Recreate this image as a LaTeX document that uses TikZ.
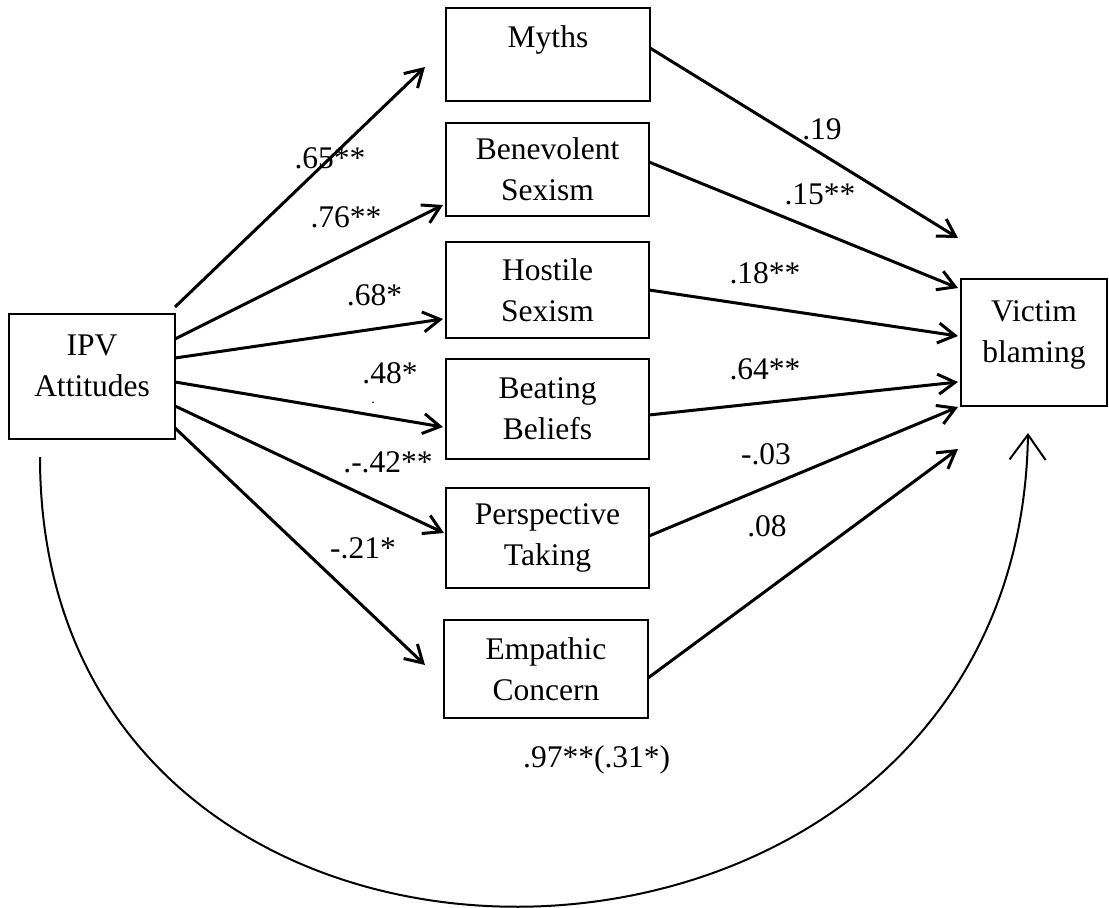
\documentclass[tikz,border=0pt]{standalone}
\usepackage{fontspec}
\setmainfont{Liberation Serif}
\usepackage{tikz}
\usetikzlibrary{arrows.meta, positioning, calc}
\definecolor{Black}{rgb}{0.0,0.0,0.0}

\begin{document}
\begin{tikzpicture}[x=1pt, y=-1pt,
    every node/.style={font=\fontsize{31.5}{41}\selectfont, text=Black},
    box/.style={draw=Black, line width=2.5pt, align=center, inner sep=0pt, outer sep=0pt},
    path/.style={line width=3pt, draw=Black, -{Straight Barb[length=17pt,width=20pt]}},
    coef/.style={inner sep=0pt, anchor=base}]

    \useasboundingbox (0,0) rectangle (1109,908);

    % predictor
    \node[box, minimum width=166pt, minimum height=125pt] (ipv) at (92,376.5) {IPV\\Attitudes\\[-20pt]~};

    % mediators
    \node[box, minimum width=204pt, minimum height=93pt] (myths) at (548,54.5) {Myths\\[-6pt]~};
    \node[box, minimum width=203pt, minimum height=93pt] (benevolent) at (547.5,169.5) {Benevolent\\Sexism};
    \node[box, minimum width=203pt, minimum height=96pt] (hostile) at (547.5,290) {Hostile\\Sexism};
    \node[box, minimum width=203pt, minimum height=100pt] (beating) at (547.5,409) {Beating\\Beliefs};
    \node[box, minimum width=203pt, minimum height=100pt] (perspective) at (547.5,538) {Perspective\\Taking};
    \node[box, minimum width=204pt, minimum height=98pt] (empathic) at (546,669) {Empathic\\Concern};

    % outcome
    \node[box, minimum width=146pt, minimum height=127pt] (victim) at (1034,342.5) {Victim\\blaming\\[-20pt]~};

    % a paths
    \draw[path] ([yshift=69.5pt]ipv.east) -- ([xshift=-21pt,yshift=-12.5pt]myths.west);
    \draw[path] ([yshift=37.5pt]ipv.east) -- ([xshift=-3pt,yshift=-35.5pt]benevolent.west);
    \draw[path] ([yshift=18.5pt]ipv.east) -- ([xshift=-3pt,yshift=-29pt]hostile.west);
    \draw[path] ([yshift=-5.5pt]ipv.east) -- ([xshift=-3pt,yshift=-18pt]beating.west);
    \draw[path] ([yshift=-29.5pt]ipv.east) -- ([xshift=-2pt,yshift=5pt]perspective.west);
    \draw[path] ([yshift=-51.5pt]ipv.east) -- ([xshift=-19pt,yshift=4pt]empathic.west);

    % b paths
    \draw[path] ([yshift=6.5pt]myths.east) -- ([xshift=-3pt,yshift=104.5pt]victim.west);
    \draw[path] ([yshift=7.5pt]benevolent.east) -- ([xshift=-3pt,yshift=54.5pt]victim.west);
    \draw[path] (hostile.east) -- ([xshift=-3pt,yshift=6.5pt]victim.west);
    \draw[path] ([yshift=-6pt]beating.east) -- ([xshift=-3pt,yshift=-39.5pt]victim.west);
    \draw[path] ([yshift=2pt]perspective.east) -- ([xshift=-3pt,yshift=-64.5pt]victim.west);
    \draw[path] ([yshift=-9pt]empathic.east) -- ([xshift=-3pt,yshift=-106.5pt]victim.west);

    % c path
    \draw[line width=2pt, draw=Black, -{Straight Barb[length=25pt,width=36pt]}]
        ([xshift=-52pt,yshift=-18pt]ipv.south)
        .. controls +(0,615) and +(-10,615) ..
        ([xshift=-6pt,yshift=-27pt]victim.south);

    % coefficients
    \node[coef] (a1) at (330,168) {.65**};
    \node[coef] (a2) at (346,227) {.76**};
    \node[coef] (a3) at (374.5,305) {.68*};
    \node[coef] (a4) at (390,383) {.48*};
    \node[coef, font=\fontsize{14}{14}\selectfont] (a4dot) at (373,403) {.};
    \node[coef] (a5) at (388,472) {.-.42**};
    \node[coef] (a6) at (363,558) {-.21*};
    \node[coef] (b1) at (822,139) {.19};
    \node[coef] (b2) at (820,204) {.15**};
    \node[coef] (b3) at (765,283) {.18**};
    \node[coef] (b4) at (765,379) {.64**};
    \node[coef] (b5) at (766,464) {-.03};
    \node[coef] (b6) at (767,536) {.08};
    \node[coef, anchor=base west] (c) at (523,767) {.97**(.31*)};

\end{tikzpicture}
\end{document}
